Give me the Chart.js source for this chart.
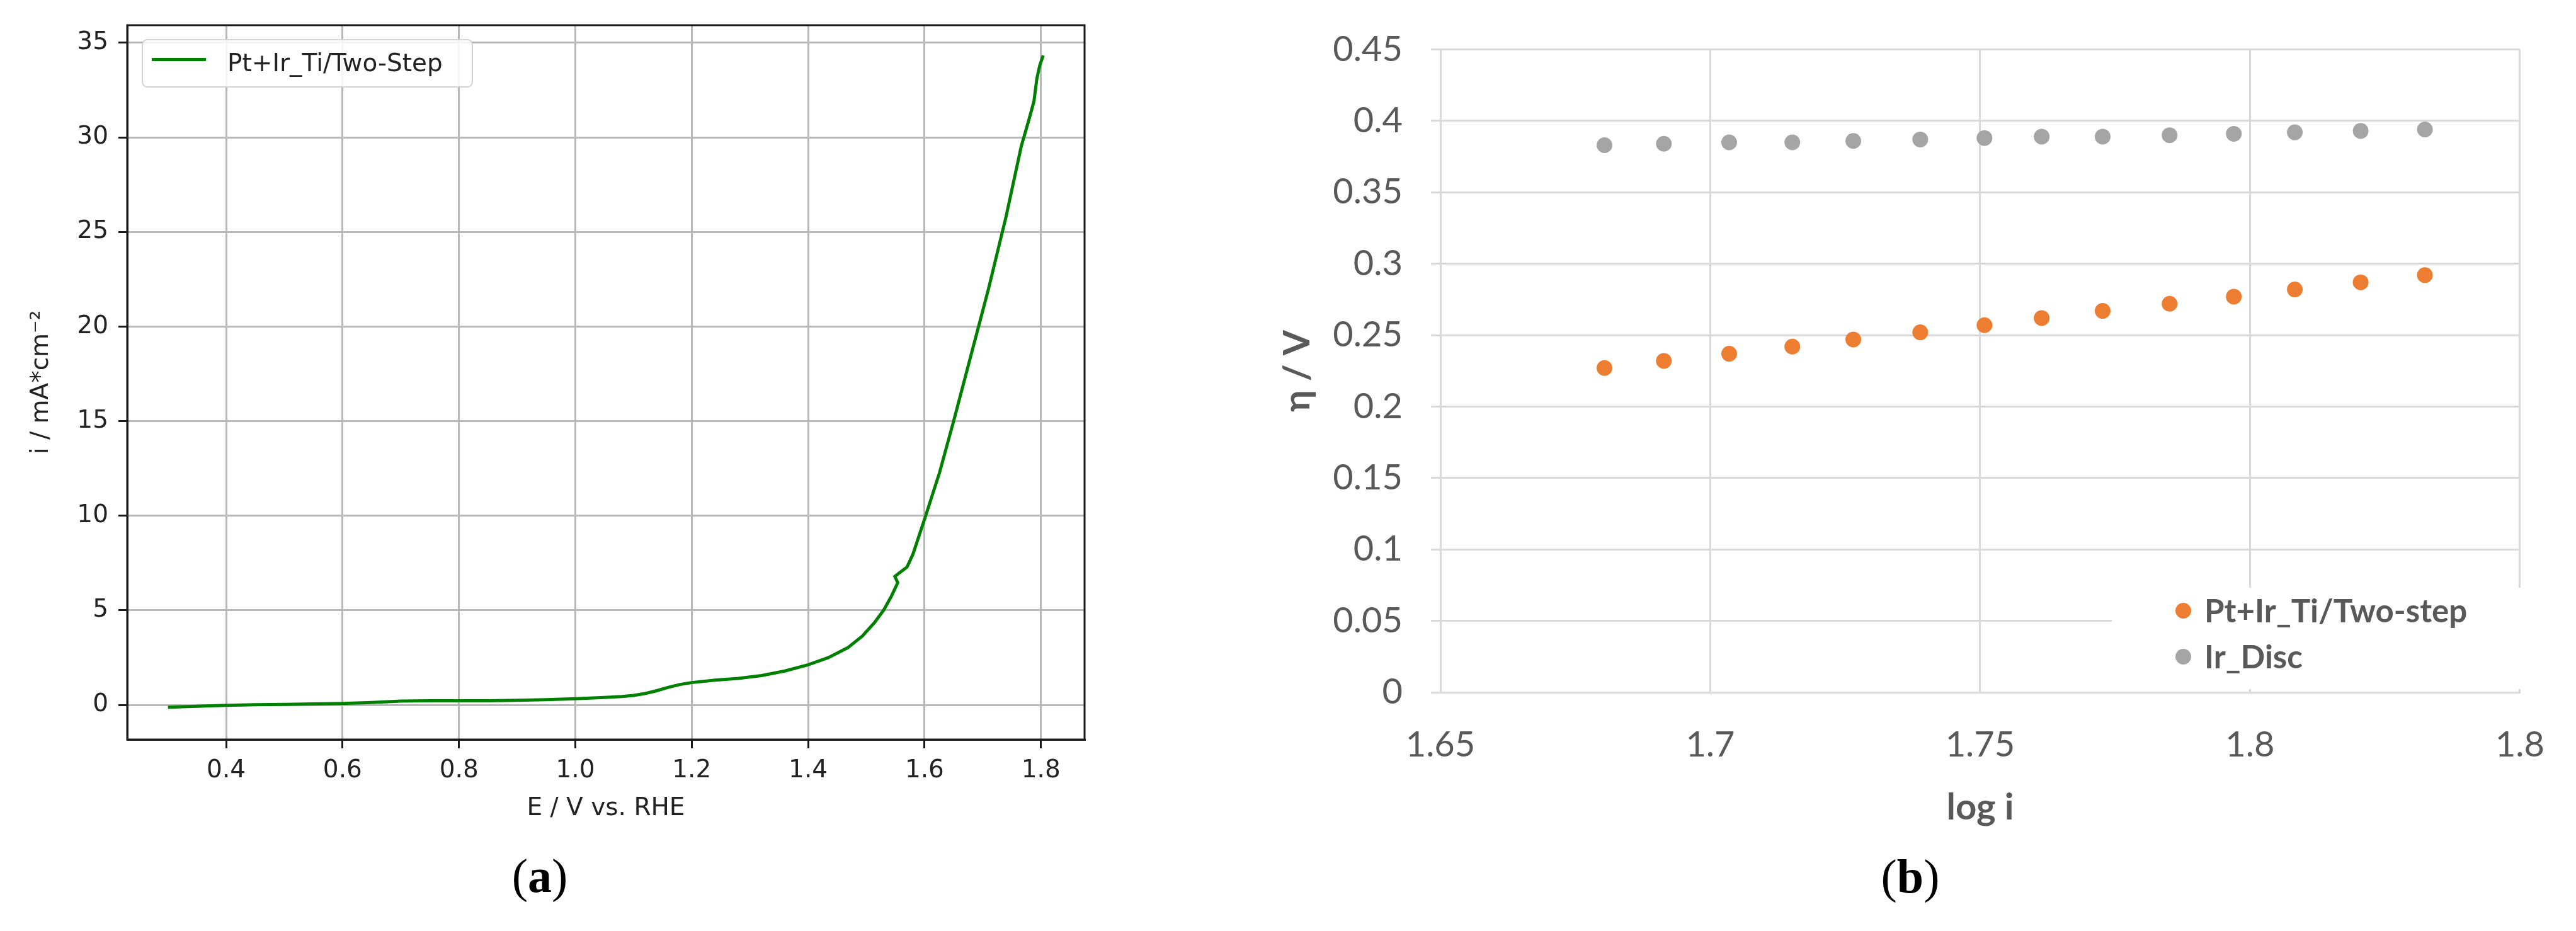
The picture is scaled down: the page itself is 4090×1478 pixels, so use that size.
<!DOCTYPE html>
<html>
<head>
<meta charset="utf-8">
<title>Polarisation curve and Tafel plot</title>
<script src="https://cdn.jsdelivr.net/npm/chart.js@4.4.1/dist/chart.umd.min.js"></script>
<style>
  html, body { margin: 0; padding: 0; background: #fff; }
  body { position: relative; width: 4090px; height: 1478px; overflow: hidden; }
  canvas { position: absolute; top: 0; }
  #chartA { left: 0; }
  #chartB { left: 1950px; }
  .panel { position: absolute; font-family: "Liberation Serif", "DejaVu Serif", serif; font-size: 76px; line-height: 76px; transform: translateX(-50%); color: #000; }
  #legendA { position: absolute; left: 225px; top: 62px; width: 526px; height: 77px; box-sizing: border-box; border: 2px solid #d3d3d3; border-radius: 9px; background: rgba(255,255,255,0.85); }
  #legendA .swatch { position: absolute; left: 14px; top: 28px; width: 86px; height: 5px; background: #008000; }
  #legendA .label { position: absolute; left: 134px; top: 13px; font: 39px "DejaVu Sans", sans-serif; line-height: 46px; color: #222; white-space: nowrap; }
  #legendB { position: absolute; left: 3353px; top: 933px; width: 672px; height: 161px; background: #fff; }
  #legendB .dot { position: absolute; left: 101px; width: 25px; height: 25px; border-radius: 50%; }
  #legendB .label { position: absolute; left: 147px; font: bold 51px Lato, sans-serif; line-height: 60px; color: #595959; white-space: nowrap; }
</style>
</head>
<body>
<canvas id="chartA" width="1800" height="1340"></canvas>
<canvas id="chartB" width="2140" height="1340"></canvas>

<div id="legendA"><div class="swatch"></div><div class="label">Pt+Ir_Ti/Two-Step</div></div>
<div id="legendB">
  <div class="dot" style="top:24px;background:#ED7D31"></div><div class="label" style="top:6px">Pt+Ir_Ti/Two-step</div>
  <div class="dot" style="top:97px;background:#A5A5A5"></div><div class="label" style="top:79px">Ir_Disc</div>
</div>
<div class="panel" style="left:857px;top:1352px">(<b>a</b>)</div>
<div class="panel" style="left:3033px;top:1353px">(<b>b</b>)</div>

<script>
// (a) polarisation curve
const potentialA = [0.30, 0.35, 0.40, 0.45, 0.50, 0.55, 0.60, 0.65, 0.70, 0.75, 0.80, 0.85, 0.90, 0.95,
  1.00, 1.05, 1.08, 1.10, 1.12, 1.14, 1.16, 1.18, 1.20, 1.24, 1.28, 1.32, 1.36, 1.40, 1.435, 1.468,
  1.493, 1.514, 1.530, 1.543, 1.554, 1.549, 1.556, 1.570, 1.580, 1.602, 1.626, 1.650, 1.680, 1.710,
  1.740, 1.766, 1.780, 1.788, 1.793, 1.798, 1.804];
const currentA = [-0.12, -0.07, -0.02, 0.01, 0.03, 0.05, 0.08, 0.13, 0.20, 0.22, 0.22, 0.22, 0.24, 0.28,
  0.33, 0.39, 0.44, 0.50, 0.60, 0.75, 0.93, 1.08, 1.18, 1.31, 1.40, 1.55, 1.79, 2.12, 2.50, 3.02,
  3.63, 4.35, 5.02, 5.74, 6.46, 6.79, 6.96, 7.29, 7.96, 10.0, 12.3, 15.0, 18.5, 22.0,
  25.8, 29.5, 31.0, 31.9, 33.1, 33.8, 34.33];
const xTicksA = [0.4, 0.6, 0.8, 1.0, 1.2, 1.4, 1.6, 1.8];
const xTickLabelsA = ['0.4', '0.6', '0.8', '1.0', '1.2', '1.4', '1.6', '1.8'];
const yTicksA = [0, 5, 10, 15, 20, 25, 30, 35];
const yTickLabelsA = ['0', '5', '10', '15', '20', '25', '30', '35'];

// (b) Tafel plot
const logI = [1.6804, 1.6914, 1.7035, 1.7152, 1.7265, 1.7389, 1.7508, 1.7614, 1.7727, 1.7851,
  1.7970, 1.8083, 1.8205, 1.8324];
const etaPtIr = [0.227, 0.232, 0.237, 0.242, 0.247, 0.252, 0.257, 0.262, 0.267, 0.272, 0.277, 0.282, 0.287, 0.292];
const etaIr = [0.383, 0.384, 0.385, 0.385, 0.386, 0.387, 0.388, 0.389, 0.389, 0.390, 0.391, 0.392, 0.393, 0.394];
const xTicksB = [1.65, 1.7, 1.75, 1.8, 1.85];
const xTickLabelsB = ['1.65', '1.7', '1.75', '1.8', '1.8'];
const yTicksB = [0, 0.05, 0.1, 0.15, 0.2, 0.25, 0.3, 0.35, 0.4, 0.45];
const yTickLabelsB = ['0', '0.05', '0.1', '0.15', '0.2', '0.25', '0.3', '0.35', '0.4', '0.45'];

// matplotlib style box round the plot area
const frameA = {
  id: 'frameA',
  afterDraw(chart) {
    const { ctx, chartArea: a } = chart;
    ctx.save();
    ctx.strokeStyle = '#1a1a1a';
    ctx.lineWidth = 3;
    ctx.strokeRect(a.left, a.top, a.right - a.left, a.bottom - a.top);
    ctx.restore();
  }
};

const mplFont = { family: 'DejaVu Sans', size: 39 };

new Chart(document.getElementById('chartA'), {
  type: 'line',
  data: {
    datasets: [{
      label: 'Pt+Ir_Ti/Two-Step',
      data: potentialA.map((e, k) => ({ x: e, y: currentA[k] })),
      borderColor: '#008000',
      borderWidth: 5,
      pointRadius: 0,
      tension: 0,
      fill: false
    }]
  },
  options: {
    responsive: false,
    animation: false,
    layout: { padding: { left: 0, top: 40, right: 78, bottom: 0 } },
    plugins: { legend: { display: false }, tooltip: { enabled: false } },
    scales: {
      x: {
        type: 'linear', min: 0.23, max: 1.875,
        afterBuildTicks: s => { s.ticks = xTicksA.map(v => ({ value: v })); },
        afterFit: s => { s.height = 166; },
        grid: { color: '#b8b8b8', lineWidth: 3, tickLength: 14, tickColor: '#1a1a1a', tickWidth: 3 },
        border: { color: '#1a1a1a', width: 3 },
        ticks: { font: mplFont, color: '#222', padding: 12, maxRotation: 0, autoSkip: false,
                 callback: (v, k) => xTickLabelsA[k] },
        title: { display: true, text: 'E / V vs. RHE', font: mplFont, color: '#222', padding: { top: 0, bottom: 33 } }
      },
      y: {
        type: 'linear', min: -1.83, max: 35.93,
        afterBuildTicks: s => { s.ticks = yTicksA.map(v => ({ value: v })); },
        afterFit: s => { s.width = 202; },
        grid: { color: '#b8b8b8', lineWidth: 3, tickLength: 14, tickColor: '#1a1a1a', tickWidth: 3 },
        border: { color: '#1a1a1a', width: 3 },
        ticks: { font: mplFont, color: '#222', padding: 16, autoSkip: false,
                 callback: (v, k) => yTickLabelsA[k] },
        title: { display: true, text: 'i / mA*cm\u207B\u00B2', font: mplFont, color: '#222', padding: { top: 42, bottom: 0 } }
      }
    }
  },
  plugins: [frameA]
});

const xlTick = { family: 'Lato', size: 56 };
const xlTitle = { family: 'Lato', size: 58, weight: 'bold' };

new Chart(document.getElementById('chartB'), {
  type: 'scatter',
  data: {
    datasets: [{
      label: 'Pt+Ir_Ti/Two-step',
      data: logI.map((v, k) => ({ x: v, y: etaPtIr[k] })),
      backgroundColor: '#ED7D31',
      borderColor: '#ED7D31',
      borderWidth: 0,
      pointRadius: 12.5
    }, {
      label: 'Ir_Disc',
      data: logI.map((v, k) => ({ x: v, y: etaIr[k] })),
      backgroundColor: '#A5A5A5',
      borderColor: '#A5A5A5',
      borderWidth: 0,
      pointRadius: 12.5
    }]
  },
  options: {
    responsive: false,
    animation: false,
    layout: { padding: { left: 0, top: 76, right: 60, bottom: 0 } },
    plugins: { legend: { display: false }, tooltip: { enabled: false } },
    scales: {
      x: {
        type: 'linear', min: 1.65, max: 1.85,
        afterBuildTicks: s => { s.ticks = xTicksB.map(v => ({ value: v })); },
        afterFit: s => { s.height = 241; },
        grid: { color: '#d9d9d9', lineWidth: 3, drawTicks: false },
        border: { color: '#d9d9d9', width: 3 },
        ticks: { font: xlTick, color: '#595959', padding: 50, maxRotation: 0, autoSkip: false,
                 callback: (v, k) => xTickLabelsB[k] },
        title: { display: true, text: 'log i', font: xlTitle, color: '#595959', padding: { top: 0, bottom: 23 } }
      },
      y: {
        type: 'linear', min: 0, max: 0.45,
        afterBuildTicks: s => { s.ticks = yTicksB.map(v => ({ value: v })); },
        afterFit: s => { s.width = 337; },
        grid: { color: '#d9d9d9', lineWidth: 3, tickLength: 15, tickColor: '#d9d9d9' },
        border: { color: '#d9d9d9', width: 3 },
        ticks: { font: xlTick, color: '#595959', padding: 45, autoSkip: false,
                 callback: (v, k) => yTickLabelsB[k] },
        title: { display: true, text: '\u03B7 / V', font: xlTitle, color: '#595959', padding: { top: 75, bottom: 0 } }
      }
    }
  }
});
</script>
</body>
</html>
